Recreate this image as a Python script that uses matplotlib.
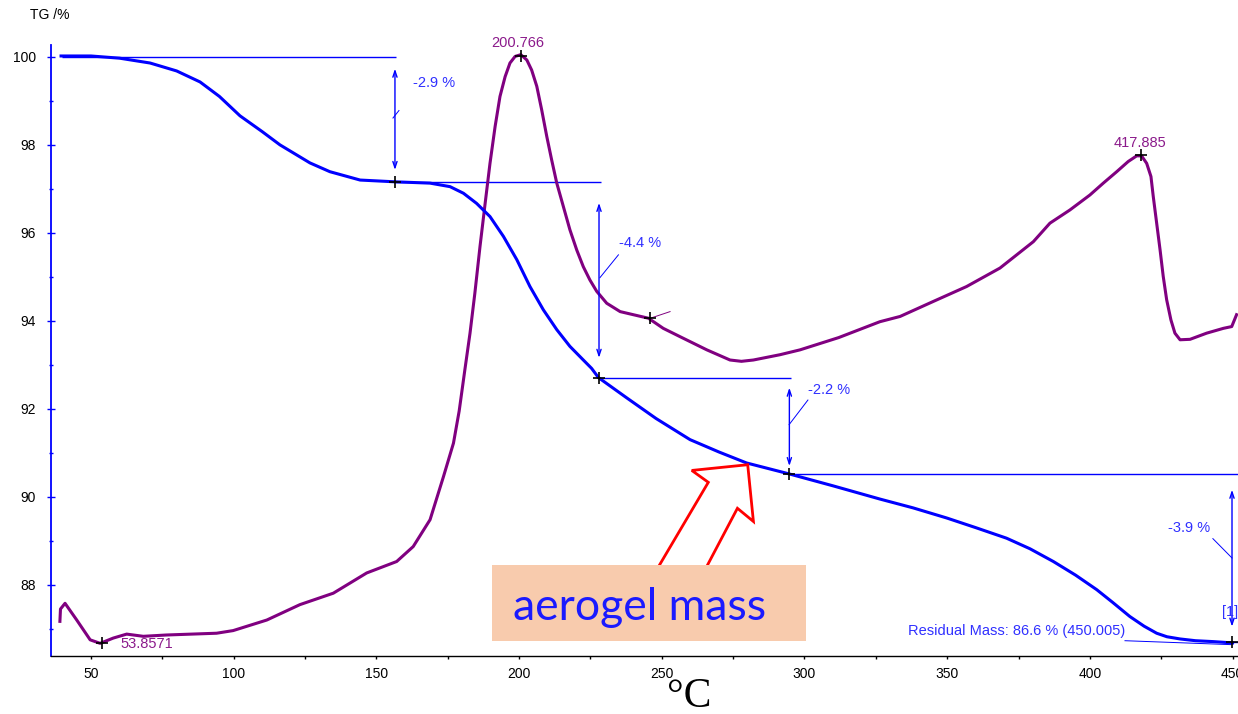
import numpy as np
import matplotlib
matplotlib.use('Agg')
import matplotlib.pyplot as plt
from matplotlib.patches import Polygon, Rectangle

# TG curve (mass %)
tg_temp = [39.5, 50, 60, 70.7, 80, 88.2, 95, 102.2, 110, 116.2, 126.7, 133.7, 144.3, 156.5,
           168.8, 175.8, 180.5, 185.1, 189.8, 194.5, 199.2, 203.8, 208.5, 213.2, 217.8,
           222.5, 225.4, 227.8, 237.7, 248, 259.9, 270, 279.7, 294.7, 310, 326.4, 338,
           349.8, 360, 370.8, 379, 387.2, 395, 402.4, 408, 414.0, 419, 423.4, 427, 431.6,
           437, 443.1, 450.0]
tg_mass = [100.02, 100.02, 99.97, 99.86, 99.68, 99.43, 99.1, 98.66, 98.3, 98.0, 97.59, 97.39, 97.2, 97.16,
           97.13, 97.05, 96.90, 96.67, 96.37, 95.92, 95.39, 94.78, 94.25, 93.80, 93.42,
           93.11, 92.92, 92.71, 92.25, 91.78, 91.3, 91.02, 90.77, 90.52, 90.25, 89.95, 89.75,
           89.52, 89.30, 89.06, 88.82, 88.53, 88.22, 87.89, 87.60, 87.28, 87.06, 86.90, 86.82, 86.77,
           86.73, 86.71, 86.68]

# DSC curve, scaled to the TG axis for display
dsc_temp = [39.1, 39.3, 40.9, 45, 49.7, 53.2, 57.8, 62.5, 68.3, 76.5, 94, 99.8, 111.6, 123.2,
            134.9, 146.6, 157.1, 162.9, 168.8, 173.5, 177, 179.0, 181.0, 182.8, 184.5, 186.3,
            188.1, 189.8, 191.6, 193.3, 195.1, 196.8, 198.6, 200.6, 202.7, 204.4, 206.2,
            207.9, 209.7, 211.4, 213.2, 215.5, 217.8, 220.2, 222.5, 224.8, 227.2, 230.7,
            235.4, 240.0, 245.3, 250.5, 256.4, 265.8, 273.9, 277.9, 282.1, 291.4, 298.4, 312,
            326.4, 333.5, 345.1, 356.8, 368.5, 380.2, 386, 393, 400.0, 404.7, 409.4, 413.4,
            416.4, 418.1, 419.9, 421.4, 422.2, 423.4, 424.6, 425.7, 426.9, 428.4, 429.8,
            431.6, 435.1, 440.9, 446.8, 449.7, 451.4]
dsc_disp = [87.17, 87.45, 87.58, 87.2, 86.75, 86.67, 86.79, 86.88, 86.83, 86.86, 86.9, 86.96, 87.2, 87.55,
            87.81, 88.27, 88.53, 88.87, 89.48, 90.46, 91.22, 91.95, 92.89, 93.72, 94.63, 95.69,
            96.67, 97.58, 98.42, 99.10, 99.55, 99.86, 100.01, 100.05, 99.93, 99.70, 99.33,
            98.80, 98.19, 97.66, 97.13, 96.60, 96.07, 95.61, 95.23, 94.93, 94.67, 94.40,
            94.21, 94.14, 94.06, 93.83, 93.64, 93.34, 93.11, 93.08, 93.11, 93.23, 93.34, 93.62,
            93.98, 94.1, 94.44, 94.78, 95.2, 95.8, 96.22, 96.52, 96.86, 97.13, 97.39, 97.62,
            97.75, 97.75, 97.58, 97.28, 96.83, 96.22, 95.61, 95.01, 94.48, 94.02, 93.72,
            93.57, 93.58, 93.72, 93.83, 93.87, 94.14]

# mass-loss steps
step_temp = [156.5, 228.0, 294.7, 449.8]
step_level = [100.0, 97.16, 92.7, 90.52, 86.7]
line_ends = [156.9, 228.7, 295.3, 452.0]
arrow_top = [99.73, 96.68, 92.48, 90.16]
arrow_bot = [97.43, 93.16, 90.70, 87.05]
step_text = ['-2.9 %', '-4.4 %', '-2.2 %', '-3.9 %']
step_text_pos = [(162.8, 99.41), (235.0, 95.77), (301.2, 92.43), (427.4, 89.30)]
leader_from = [(155.8, 98.61), (228.3, 94.98), (294.6, 91.64), (449.8, 88.61)]
leader_to = [(157.9, 98.78), (234.8, 95.50), (301.2, 92.20), (443.1, 89.05)]

# peak markers
peak_temp = [200.766, 417.885, 53.8571]
peak_disp = [100.01, 97.76, 86.67]
peak_text = ['200.766', '417.885', '53.8571']

blue = '#0000ff'
blue_txt = '#3030ff'
purple = '#800080'
purple_txt = '#8b1a8b'
fs_ann = 10.5

fig = plt.figure(figsize=(12.38, 7.14), dpi=100)
ax = fig.add_axes([0.0412, 0.0817, 0.9588, 0.8553])
ax.set_xlim(35.98, 451.9)
ax.set_ylim(86.39, 100.27)

ax.plot(dsc_temp, dsc_disp, color=purple, lw=2.2, zorder=3)
ax.plot(tg_temp, tg_mass, color=blue, lw=2.2, zorder=4)

# steps: horizontal levels, double arrows, labels
ax.hlines(step_level[0], 40.0, line_ends[0], color=blue, lw=1.0)
for i in range(len(step_temp)):
    ax.hlines(step_level[i + 1], step_temp[i], line_ends[i + 1] if i + 1 < len(line_ends) else 452,
              color=blue, lw=1.0, clip_on=False)
    ax.annotate('', xy=(step_temp[i], arrow_bot[i]), xytext=(step_temp[i], arrow_top[i]),
                arrowprops=dict(arrowstyle='<->,head_length=0.45,head_width=0.15',
                                color=blue, lw=1.0, shrinkA=0, shrinkB=0))
    ax.plot([leader_from[i][0], leader_to[i][0]], [leader_from[i][1], leader_to[i][1]],
            color=blue, lw=0.7)
    ax.text(step_text_pos[i][0], step_text_pos[i][1], step_text[i], color=blue_txt,
            fontsize=fs_ann, family='Liberation Sans', va='center', ha='left')
    ax.plot(step_temp[i], step_level[i + 1], marker='+', color='black', ms=9, mew=1.2, zorder=6)

ax.text(336.3, 86.95, 'Residual Mass: 86.6 % (450.005)', color=blue_txt, fontsize=fs_ann,
        family='Liberation Sans', va='center', ha='left')
ax.plot([412.3, 449.8], [86.73, 86.64], color=blue, lw=0.7)
ax.text(446.3, 87.39, '[1]', color=blue_txt, fontsize=fs_ann, family='Liberation Sans',
        va='center', ha='left', clip_on=False)

# peak labels
ax.plot(peak_temp, peak_disp, linestyle='none', marker='+', color='black', ms=9, mew=1.2, zorder=6)
ax.text(peak_temp[0] - 1.2, 100.32, peak_text[0], color=purple_txt, fontsize=fs_ann,
        family='Liberation Sans', ha='center', va='center', clip_on=False)
ax.text(peak_temp[1] - 0.4, 98.05, peak_text[1], color=purple_txt, fontsize=fs_ann,
        family='Liberation Sans', ha='center', va='center')
ax.text(60.2, 86.66, peak_text[2], color=purple_txt, fontsize=fs_ann,
        family='Liberation Sans', ha='left', va='center')
ax.plot(246.0, 94.06, marker='+', color='black', ms=9, mew=1.2, zorder=6)
ax.plot([246.0, 252.9], [94.06, 94.21], color=purple, lw=0.7)

# red hollow arrow and the label box
arrow_pts = [(242.0, 87.66), (266.3, 90.33), (260.5, 90.60), (280.1, 90.73),
             (282.1, 89.44), (276.5, 89.74), (259.6, 87.66)]
ax.add_patch(Polygon(arrow_pts, closed=True, facecolor='white', edgecolor='red', lw=2.0, zorder=7))
ax.add_patch(Rectangle((190.5, 86.73), 110.0, 1.72, facecolor='#f8cbad', edgecolor='none', zorder=8))
ax.text(197.8, 87.205, 'aerogel mass', color='#1a1aff', fontsize=32, family='Lato',
        ha='left', va='baseline', zorder=9)

# axes styling
for s in ['top', 'right']:
    ax.spines[s].set_visible(False)
ax.spines['left'].set_color(blue)
ax.spines['left'].set_linewidth(1.3)
ax.spines['bottom'].set_color('black')
ax.spines['bottom'].set_linewidth(1.0)

ax.set_yticks(np.arange(88, 101, 2))
ax.set_yticks(np.arange(87, 100, 2), minor=True)
ax.set_xticks(np.arange(50, 451, 50))
ax.set_xticks(np.arange(75, 451, 50), minor=True)
ax.tick_params(axis='y', which='major', colors=blue, labelcolor='black', direction='inout',
               length=6, width=1.0, labelsize=10, pad=8)
ax.tick_params(axis='y', which='minor', colors=blue, direction='inout', length=3, width=1.0)
ax.tick_params(axis='x', which='major', length=2.2, width=1.0, labelsize=10, pad=6)
ax.tick_params(axis='x', which='minor', length=2.5, width=1.0)
for lab in ax.get_xticklabels() + ax.get_yticklabels():
    lab.set_family('Liberation Sans')

fig.text(30 / 1238, 1 - 15 / 714, 'TG /%', fontsize=10, family='Liberation Sans',
         ha='left', va='center')
fig.text(689 / 1238, 1 - 697 / 714, '°C', fontsize=30, family='Liberation Serif',
         ha='center', va='center')

fig.savefig('out.png', dpi=100)
